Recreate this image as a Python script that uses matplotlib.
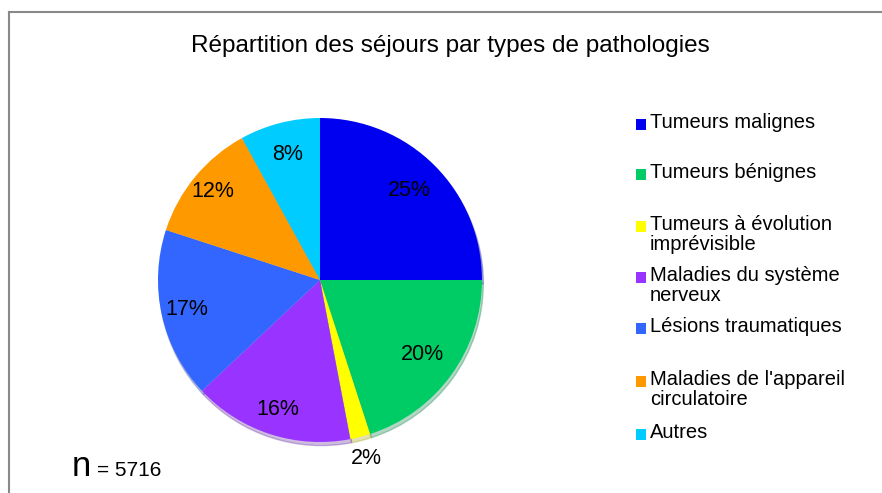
import matplotlib.pyplot as plt
from matplotlib.patches import Rectangle
from matplotlib.lines import Line2D
import numpy as np

plt.rcParams['font.family'] = ['Liberation Sans', 'DejaVu Sans']

labels = ['Tumeurs malignes', 'Tumeurs bénignes', 'Tumeurs à évolution\nimprévisible',
          'Maladies du système\nnerveux', 'Lésions traumatiques',
          "Maladies de l'appareil\ncirculatoire", 'Autres']
values = [25, 20, 2, 16, 17, 12, 8]
colors = ['#0000F0', '#00CC66', '#FFFF00', '#9933FF', '#3366FF', '#FF9900', '#00CCFF']
n_total = 5716

# label distance per slice (fraction of radius)
label_r = [0.78, 0.78, 1.14, 0.84, 0.84, 0.86, 0.80]

fig = plt.figure(figsize=(8.82, 4.93), dpi=100)

# frame (top and left edge only visible)
fig.add_artist(Line2D([9/882, 9/882], [0, 1 - 12/493], transform=fig.transFigure, color='#888888', lw=1.5))
fig.add_artist(Line2D([9/882, 1], [1 - 12/493, 1 - 12/493], transform=fig.transFigure, color='#888888', lw=1.5))

fig.text(450/882, 1 - 46/493, 'Répartition des séjours par types de pathologies',
         ha='center', va='center', fontsize=17.5)

ax = fig.add_axes([158/882, 51/493, 324/882, 324/493])
wedges, texts, autotexts = ax.pie(values, colors=colors, startangle=90, counterclock=False,
                                  autopct='%1.0f%%', pctdistance=0.8,
                                  shadow={'ox': 0.006, 'oy': -0.016, 'shade': 0.4, 'alpha': 0.3},
                                  textprops={'fontsize': 15.5})
for w, t, r in zip(wedges, autotexts, label_r):
    ang = np.deg2rad((w.theta1 + w.theta2) / 2)
    t.set_position((r * np.cos(ang), r * np.sin(ang)))
    t.set_clip_on(False)
for p in ax.patches:
    p.set_clip_on(False)
ax.set_xlim(-1, 1)
ax.set_ylim(-1, 1)
ax.axis('off')

# legend
ys = [124, 174, 226, 277, 328, 381, 434]
for lab, c, y in zip(labels, colors, ys):
    fig.add_artist(Rectangle((636/882, 1 - (y + 6)/493), 10/882, 11/493,
                             transform=fig.transFigure, facecolor=c, edgecolor='none'))
    fig.text(650/882, 1 - (y - 11)/493, lab, ha='left', va='top', fontsize=14.5, linespacing=1.05)

fig.text(72/882, 1 - 476/493, 'n', fontsize=25, ha='left', va='baseline')
fig.text(97/882, 1 - 476/493, '= %d' % n_total, fontsize=15, ha='left', va='baseline')

fig.savefig('out.png', dpi=100)
